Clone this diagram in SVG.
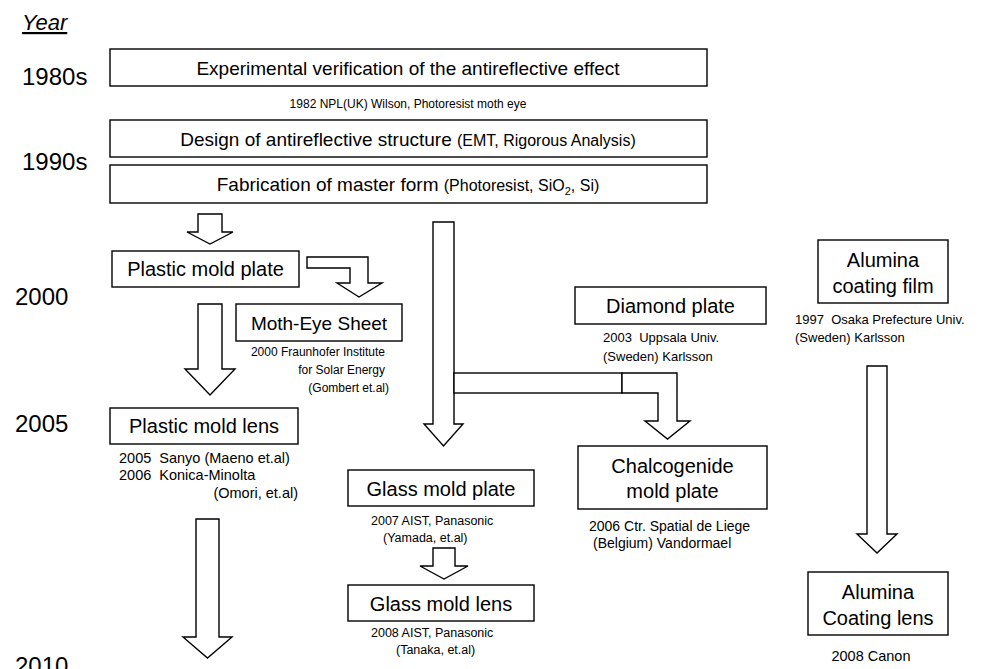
<svg xmlns="http://www.w3.org/2000/svg" width="989" height="669" viewBox="0 0 989 669">
<style>
text{font-family:"Liberation Sans",Arial,sans-serif;fill:#000}
.yr{font-size:24px}
.bx{fill:#fff;stroke:#000;stroke-width:1.4}
.t{font-size:20px;text-anchor:middle}
.big{font-size:19px;text-anchor:middle}
.sm{font-size:16px}
.c{font-size:13px}
.c12{font-size:12px}
.c125{font-size:12.5px}
.c14{font-size:14px}
.c145{font-size:14.5px}
.mid{text-anchor:middle}
.end{text-anchor:end}
.ar{fill:#fff;stroke:#000;stroke-width:1.4;stroke-linejoin:miter}
</style>
<rect width="989" height="669" fill="#fff"/>
<g id="years">
<text x="22" y="30" style="font-size:22px;font-style:italic;text-decoration:underline">Year</text>
<text class="yr" x="22" y="85">1980s</text>
<text class="yr" x="22" y="170">1990s</text>
<text class="yr" x="15" y="305">2000</text>
<text class="yr" x="15" y="432">2005</text>
<text class="yr" x="15" y="674">2010</text>
</g>
<g id="connectors">
<polygon class="ar" points="198,214 222,214 222,232 233,232 210,244 187,232 198,232"/>
<polygon class="ar" points="307,257 368,257 368,283 382,283 359,297 337,283 350,283 350,268 307,268"/>
<polygon class="ar" points="198,304 222,304 222,369 235,369 210,395 185,369 198,369"/>
<polygon class="ar" points="196,519 219,519 219,637 232,637 207.5,658 183,637 196,637"/>
<polygon class="ar" points="433,222 454,222 454,424 463,424 443.5,446 424,424 433,424"/>
<rect class="ar" x="454" y="373" width="168" height="20"/>
<polygon class="ar" points="622,373 677,373 677,421 690,421 667.5,439 645,421 658,421 658,393 622,393"/>
<polygon class="ar" points="433,548 455,548 455,566 468,566 444,579 420,566 433,566"/>
<polygon class="ar" points="867,366 887,366 887,534 897,534 877,553 857,534 867,534"/>
</g>
<g id="n1">
<rect class="bx" x="110" y="49" width="597" height="37"/>
<text class="big" x="408" y="75">Experimental verification of the antireflective effect</text>
<text class="c12 mid" x="408" y="108">1982 NPL(UK) Wilson, Photoresist moth eye</text>
</g>
<g id="n2">
<rect class="bx" x="110" y="120" width="597" height="37"/>
<text class="big" x="408" y="146">Design of antireflective structure <tspan class="sm">(EMT, Rigorous Analysis)</tspan></text>
</g>
<g id="n3">
<rect class="bx" x="110" y="165" width="597" height="38"/>
<text class="big" x="408" y="191">Fabrication of master form <tspan class="sm">(Photoresist, SiO</tspan><tspan style="font-size:11px" dy="4">2</tspan><tspan class="sm" dy="-4">, Si)</tspan></text>
</g>
<g id="n4">
<rect class="bx" x="112" y="251" width="187" height="36"/>
<text class="t" x="205.5" y="276">Plastic mold plate</text>
</g>
<g id="n5">
<rect class="bx" x="236" y="304" width="166" height="37"/>
<text class="t" x="319" y="330" style="font-size:19px">Moth-Eye Sheet</text>
<text class="c12 end" x="385" y="356">2000 Fraunhofer Institute</text>
<text class="c12 end" x="385" y="374">for Solar Energy</text>
<text class="c12 end" x="389" y="392">(Gombert et.al)</text>
</g>
<g id="n6">
<rect class="bx" x="110" y="408" width="188" height="36"/>
<text class="t" x="204" y="433">Plastic mold lens</text>
<text class="c145" x="119" y="463" xml:space="preserve">2005  Sanyo (Maeno et.al)</text>
<text class="c145" x="119" y="480" xml:space="preserve">2006  Konica-Minolta</text>
<text class="c145 end" x="298" y="498">(Omori, et.al)</text>
</g>
<g id="n7">
<rect class="bx" x="575" y="287" width="191" height="37"/>
<text class="t" x="670.5" y="313">Diamond plate</text>
<text class="c" x="603" y="342" xml:space="preserve">2003  Uppsala Univ.</text>
<text class="c" x="603" y="361">(Sweden) Karlsson</text>
</g>
<g id="n8">
<rect class="bx" x="578" y="446" width="189" height="63"/>
<text class="t" x="672.5" y="473">Chalcogenide</text>
<text class="t" x="672.5" y="498">mold plate</text>
<text class="c14" x="589" y="531">2006 Ctr. Spatial de Liege</text>
<text class="c14" x="593" y="548">(Belgium) Vandormael</text>
</g>
<g id="n9">
<rect class="bx" x="348" y="470" width="186" height="36"/>
<text class="t" x="441" y="496">Glass mold plate</text>
<text class="c125" x="371" y="525">2007 AIST, Panasonic</text>
<text class="c125" x="383" y="542">(Yamada, et.al)</text>
</g>
<g id="n10">
<rect class="bx" x="348" y="585" width="186" height="36"/>
<text class="t" x="441" y="611">Glass mold lens</text>
<text class="c125" x="371" y="637">2008 AIST, Panasonic</text>
<text class="c125" x="396" y="654">(Tanaka, et.al)</text>
</g>
<g id="n11">
<rect class="bx" x="818" y="240" width="130" height="63"/>
<text class="t" x="883" y="267">Alumina</text>
<text class="t" x="883" y="293">coating film</text>
<text class="c" x="795" y="324" xml:space="preserve">1997  Osaka Prefecture Univ.</text>
<text class="c" x="795" y="342">(Sweden) Karlsson</text>
</g>
<g id="n12">
<rect class="bx" x="808" y="572" width="140" height="63"/>
<text class="t" x="878" y="599">Alumina</text>
<text class="t" x="878" y="625">Coating lens</text>
<text class="c145 mid" x="871" y="661">2008 Canon</text>
</g>
</svg>
